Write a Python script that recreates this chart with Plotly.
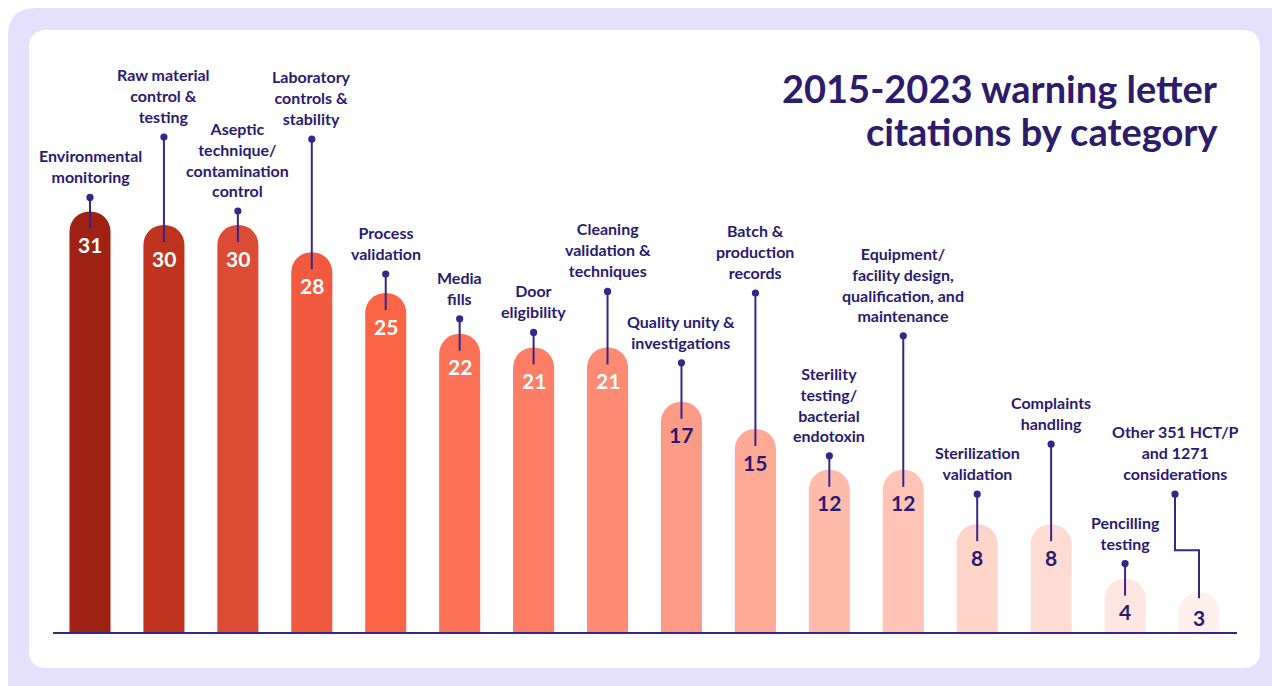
import plotly.graph_objects as go

# ---------------- data ----------------
categories = [
    "Environmental<br>monitoring",
    "Raw material<br>control &<br>testing",
    "Aseptic<br>technique/<br>contamination<br>control",
    "Laboratory<br>controls &<br>stability",
    "Process<br>validation",
    "Media<br>fills",
    "Door<br>eligibility",
    "Cleaning<br>validation &<br>techniques",
    "Quality unity &<br>investigations",
    "Batch &<br>production<br>records",
    "Sterility<br>testing/<br>bacterial<br>endotoxin",
    "Equipment/<br>facility design,<br>qualification, and<br>maintenance",
    "Sterilization<br>validation",
    "Complaints<br>handling",
    "Pencilling<br>testing",
    "Other 351 HCT/P<br>and 1271<br>considerations",
]
citations = [31, 30, 30, 28, 25, 22, 21, 21, 17, 15, 12, 12, 8, 8, 4, 3]
title_lines = ["2015-2023 warning letter", "citations by category"]

# ---------------- style ----------------
bar_colors = ["#9e2113", "#c0341f", "#db4b36", "#f25a40", "#fc6446", "#fd7157",
              "#fe7d65", "#fe8a73", "#fe9b86", "#fea896", "#ffbba9", "#ffc4b5",
              "#ffd4c9", "#ffdcd3", "#ffe6e0", "#fff0ee"]
num_colors = ["white"] * 8 + ["#2b1a72"] * 8
leader_px = [14, 88, 14, 113, 19, 15, 15, 56, 39, 136, 14, 134, 30, 80, 15, 98]
num_offset_px = [33] * 15 + [25]
PURPLE = "#36268a"
TEXT = "#2b1a72"
FONT = "Lato"
W, H = 1272, 686

x_idx = list(range(len(citations)))

fig = go.Figure()
fig.add_trace(go.Bar(
    x=x_idx, y=citations, width=0.555,
    marker=dict(color=bar_colors, line=dict(width=0), cornerradius="50%"),
    hoverinfo="skip",
))

def px2paper(px, py):
    return px / W, 1 - py / H

def rounded_rect(x0, y0, x1, y1, r):
    def P(x, y):
        a, b = px2paper(x, y)
        return f"{a:.6f},{b:.6f}"
    return (f"M {P(x0 + r, y0)} L {P(x1 - r, y0)} Q {P(x1, y0)} {P(x1, y0 + r)} "
            f"L {P(x1, y1 - r)} Q {P(x1, y1)} {P(x1 - r, y1)} "
            f"L {P(x0 + r, y1)} Q {P(x0, y1)} {P(x0, y1 - r)} "
            f"L {P(x0, y0 + r)} Q {P(x0, y0)} {P(x0 + r, y0)} Z")

shapes = [
    dict(type="path", xref="paper", yref="paper", layer="below",
         path=rounded_rect(8, 8, 1320, 740, 28), fillcolor="#e5e1fc", line=dict(width=0)),
    dict(type="path", xref="paper", yref="paper", layer="below",
         path=rounded_rect(29, 30, 1260, 668, 18), fillcolor="white", line=dict(width=0)),
    dict(type="line", xref="paper", yref="y", x0=53 / W, x1=1237 / W, y0=0, y1=0,
         line=dict(color=PURPLE, width=2.2)),
]

annotations = []
for i, v in enumerate(citations):
    L = leader_px[i]
    if i == len(citations) - 1:
        dx = -24
        elbow = 42
        shapes.append(dict(type="path", xref="x", yref="y", xsizemode="pixel", ysizemode="pixel",
                           xanchor=i, yanchor=v,
                           path=f"M {dx},{L} L {dx},{elbow} L 0,{elbow} L 0,-6",
                           line=dict(color=PURPLE, width=2)))
    else:
        dx = 0
        shapes.append(dict(type="line", xref="x", yref="y", ysizemode="pixel", yanchor=v,
                           x0=i, x1=i, y0=-17, y1=L, line=dict(color=PURPLE, width=2)))
    shapes.append(dict(type="circle", xref="x", yref="y", xsizemode="pixel", ysizemode="pixel",
                       xanchor=i, yanchor=v, x0=dx - 3.6, x1=dx + 3.6, y0=L - 3.6, y1=L + 3.6,
                       fillcolor=PURPLE, line=dict(width=0)))
    annotations.append(dict(x=i, y=v, xref="x", yref="y", text=categories[i], showarrow=False,
                            xshift=dx, yshift=L + 9, yanchor="bottom", align="center",
                            font=dict(family=FONT, size=16, color=TEXT, weight=700)))
    annotations.append(dict(x=i, y=v, xref="x", yref="y", text=str(v), showarrow=False,
                            yshift=-num_offset_px[i], yanchor="middle",
                            font=dict(family=FONT, size=21, color=num_colors[i], weight=700)))

for line_text, cy in zip(title_lines, [88, 131]):
    annotations.append(dict(x=1220 / W, y=1 - cy / H, xref="paper", yref="paper",
                            text=line_text, showarrow=False, xanchor="right", yanchor="middle",
                            font=dict(family=FONT, size=38, color="#2d1b6b", weight=700)))

step = (1199 - 90) / 15
xmin = -90 / step
xmax = 15 + (W - 1199) / step
yscale = 13.6
ymin = -(H - 633) / yscale
ymax = 633 / yscale

fig.update_layout(
    width=W, height=H, margin=dict(l=0, r=0, t=0, b=0),
    paper_bgcolor="white", plot_bgcolor="rgba(0,0,0,0)",
    showlegend=False, shapes=shapes, annotations=annotations,
    xaxis=dict(range=[xmin, xmax], visible=False, fixedrange=True),
    yaxis=dict(range=[ymin, ymax], visible=False, fixedrange=True),
)

fig.write_html("out.html", config={"displayModeBar": False})
